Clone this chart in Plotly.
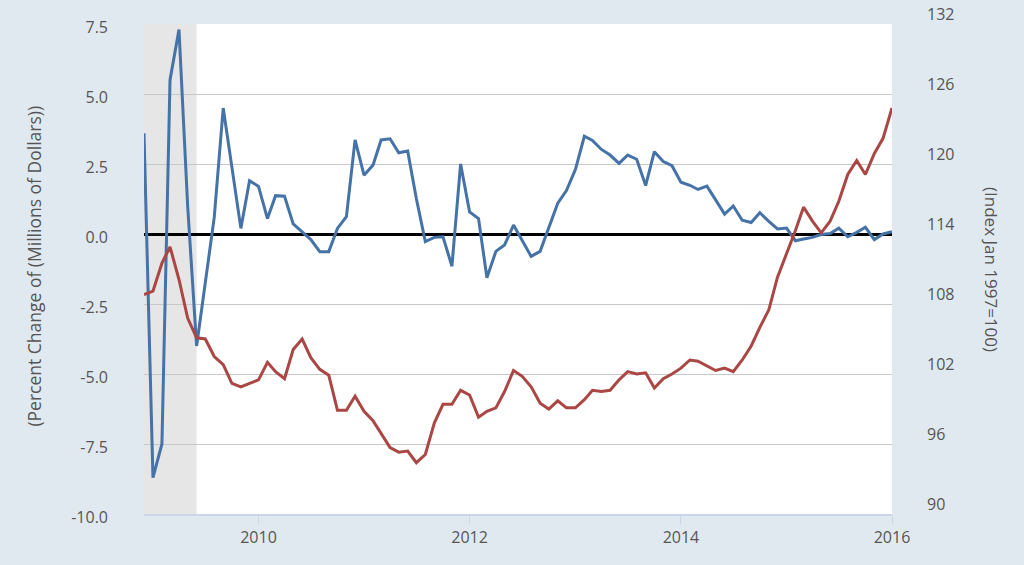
import pandas as pd
import plotly.graph_objects as go

# monthly observations, Dec 2008 .. Jan 2016
dates = pd.date_range('2008-12-01', periods=86, freq='MS')

pct_change = [
    3.6, -8.7, -7.5, 5.5, 7.3, 1.0, -4.0, -1.7, 0.6, 4.5, 2.3, 0.2, 1.9,
    1.7, 0.55, 1.37, 1.35, 0.36, 0.08, -0.2, -0.63, -0.63, 0.2, 0.62, 3.36,
    2.1, 2.46, 3.36, 3.4, 2.9, 2.96, 1.26, -0.27, -0.12, -0.1, -1.15, 2.5,
    0.79, 0.55, -1.56, -0.62, -0.39, 0.32, -0.24, -0.8, -0.62, 0.2, 1.1, 1.55,
    2.3, 3.49, 3.34, 3.02, 2.82, 2.52, 2.82, 2.67, 1.73, 2.94, 2.59, 2.44,
    1.85, 1.74, 1.59, 1.71, 1.2, 0.71, 1.0, 0.49, 0.41, 0.76, 0.45, 0.18,
    0.21, -0.24, -0.18, -0.12, -0.02, 0.02, 0.21, -0.1, 0.06, 0.24, -0.2, 0.0,
    0.08,
]

index_1997 = [
    108.8, 109.1, 111.5, 112.9, 110.1, 106.8, 105.1, 105.0, 103.5, 102.8, 101.2, 100.9, 101.2,
    101.5, 103.0, 102.2, 101.6, 104.1, 105.0, 103.4, 102.4, 101.9, 98.9, 98.9, 100.1,
    98.8, 98.0, 96.9, 95.7, 95.3, 95.4, 94.4, 95.1, 97.8, 99.4, 99.4, 100.6,
    100.2, 98.3, 98.8, 99.1, 100.5, 102.3, 101.8, 100.9, 99.5, 99.0, 99.7, 99.1,
    99.1, 99.8, 100.6, 100.5, 100.6, 101.5, 102.2, 102.0, 102.1, 100.8, 101.6, 102.0,
    102.5, 103.2, 103.1, 102.7, 102.3, 102.5, 102.2, 103.2, 104.4, 106.0, 107.5, 110.3,
    112.3, 114.3, 116.3, 115.1, 114.1, 115.1, 116.8, 119.1, 120.3, 119.1, 120.9, 122.2,
    124.8,
]

recession = ['2008-12-01', '2009-06-01']
left_ticks = [-10, -7.5, -5, -2.5, 0, 2.5, 5, 7.5]
right_ticks = [90, 96, 102, 108, 114, 120, 126, 132]
year_ticks = ['2010-01-01', '2012-01-01', '2014-01-01', '2016-01-01']

FONT = 'Open Sans'
TXT = '#555555'

fig = go.Figure()
fig.add_trace(go.Scatter(x=dates, y=pct_change, mode='lines',
                         line=dict(color='#4572a7', width=3), yaxis='y'))
fig.add_trace(go.Scatter(x=dates, y=index_1997, mode='lines',
                         line=dict(color='#aa4643', width=3), yaxis='y2'))

fig.add_vrect(x0=recession[0], x1=recession[1], fillcolor='#e6e6e6',
              line_width=0, layer='below')

fig.update_layout(
    width=1024, height=565,
    margin=dict(l=144, r=132, t=24, b=51),
    paper_bgcolor='#e1e9f0', plot_bgcolor='white',
    showlegend=False,
    font=dict(family=FONT, size=16, color=TXT),
    xaxis=dict(type='date', range=['2008-12-01', '2016-01-01'],
               tickvals=year_ticks, tickformat='%Y', automargin=False,
               showgrid=False, showline=True, linecolor='#ccd6eb', linewidth=2,
               ticks='outside', ticklen=8, tickcolor='#ccd6eb',
               tickfont=dict(size=16, color=TXT)),
    yaxis=dict(range=[-10, 7.5], tickvals=left_ticks, automargin=False,
               ticktext=[f'{v:.1f}' for v in left_ticks],
               showgrid=True, gridcolor='#c8c8c8', gridwidth=1,
               zeroline=True, zerolinecolor='black', zerolinewidth=3,
               ticklabelstandoff=35, ticklabelshift=3,
               tickfont=dict(size=16, color=TXT)),
    yaxis2=dict(range=[90, 132], tickvals=right_ticks, overlaying='y', side='right',
                showgrid=False, zeroline=False, automargin=False,
                ticklabelstandoff=34, ticklabelshift=-10,
                tickfont=dict(size=16, color=TXT)),
)

fig.add_annotation(text='(Percent Change of (Millions of Dollars))',
                   xref='paper', yref='paper', x=-0.147, y=0.505,
                   xanchor='center', yanchor='middle',
                   textangle=-90, showarrow=False,
                   font=dict(family=FONT, size=17.5, color=TXT))
fig.add_annotation(text='(Index Jan 1997=100)',
                   xref='paper', yref='paper', x=1.1337, y=0.5,
                   xanchor='center', yanchor='middle',
                   textangle=90, showarrow=False,
                   font=dict(family=FONT, size=17, color=TXT))

fig.write_html("out.html", config={'displayModeBar': False},
               post_script="document.body.style.margin='0';")
